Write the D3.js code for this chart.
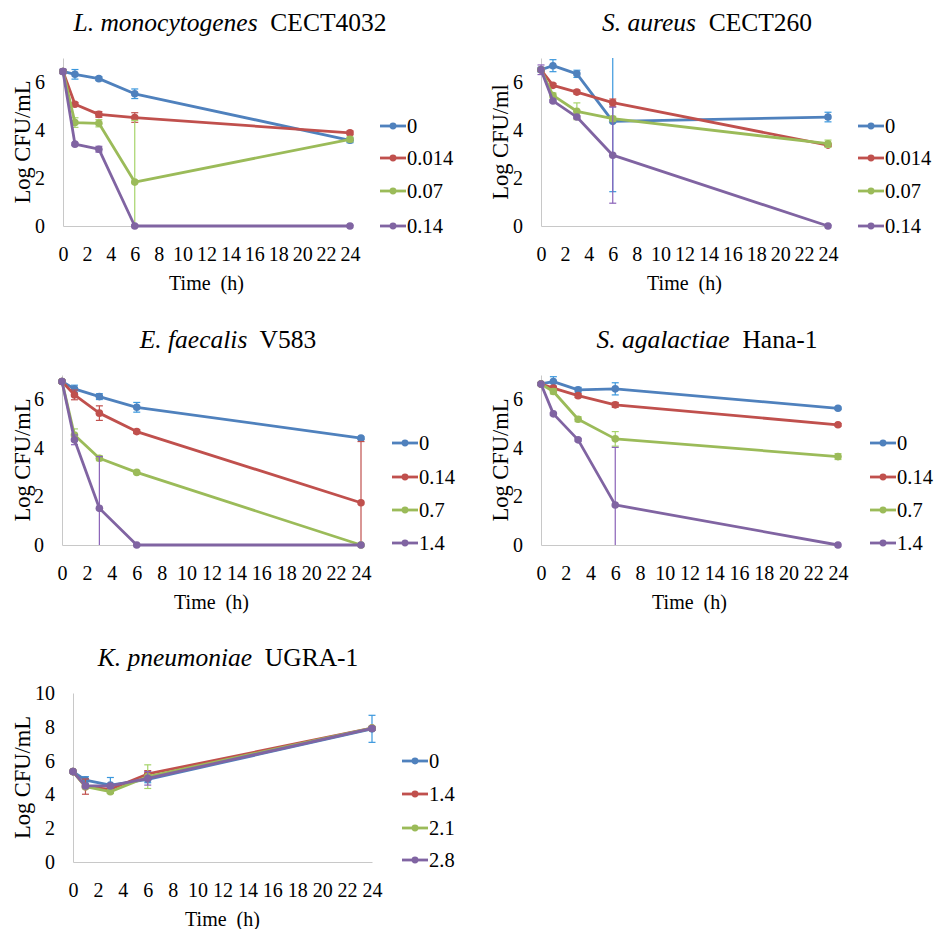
<!DOCTYPE html>
<html>
<head>
<meta charset="utf-8">
<script src="https://cdn.jsdelivr.net/npm/d3@7"></script>
<style>
  body { margin: 0; background: #fff; }
  text { font-family: "Liberation Serif", "Times New Roman", serif; fill: #000; }
</style>
</head>
<body>
<script>
// sampling times (h) and x axis ticks
const times = [0, 1, 3, 6, 24];
const xTicks = [0, 2, 4, 6, 8, 10, 12, 14, 16, 18, 20, 22, 24];
const colors = ["#4f81bd", "#c0504d", "#9bbb59", "#8064a2"];
const errColors = ["#3a97dd", "#c0504d", "#a6d46a", "#8a62b8"];
const serif = "'Liberation Serif', 'Times New Roman', serif";

// L. monocytogenes CECT4032
const lmonoDoses = ["0", "0.014", "0.07", "0.14"];
const lmonoValues = [
  [6.44, 6.32, 6.14, 5.51, 3.57],
  [6.44, 5.07, 4.65, 4.52, 3.88],
  [6.44, 4.31, 4.28, 1.83, 3.61],
  [6.44, 3.41, 3.20, 0, 0]
];
const lmonoErrors = [
  [0.08, 0.2, 0.08, 0.2, 0.1],
  [0.05, 0.08, 0.12, 0.2, 0.08],
  [0.05, 0.2, 0.15, 2.57, 0.1],
  [0.1, 0.05, 0.12, 0.05, 0.03]
];

// S. aureus CECT260
const saureusDoses = ["0", "0.014", "0.07", "0.14"];
const saureusValues = [
  [6.51, 6.68, 6.34, 4.36, 4.54],
  [6.51, 5.86, 5.58, 5.14, 3.37],
  [6.51, 5.44, 4.78, 4.47, 3.43],
  [6.51, 5.21, 4.54, 2.95, 0]
];
const saureusErrors = [
  [0.1, 0.25, 0.15, 2.93, 0.2],
  [0.05, 0.08, 0.08, 0.15, 0.05],
  [0.05, 0.1, 0.35, 0.1, 0.15],
  [0.2, 0.05, 0.05, 2.0, 0.03]
];

// E. faecalis V583
const efaecalisDoses = ["0", "0.14", "0.7", "1.4"];
const efaecalisValues = [
  [6.73, 6.43, 6.11, 5.67, 4.40],
  [6.73, 6.18, 5.43, 4.67, 1.74],
  [6.73, 4.53, 3.57, 2.99, 0],
  [6.73, 4.33, 1.51, 0, 0]
];
const efaecalisErrors = [
  [0.05, 0.15, 0.12, 0.2, 0.05],
  [0.05, 0.2, 0.3, 0.08, 2.52],
  [0.05, 0.25, 0.1, 0.05, 0],
  [0.05, 0.2, 2.13, 0, 0]
];

// S. agalactiae Hana-1
const sagalactiaeDoses = ["0", "0.14", "0.7", "1.4"];
const sagalactiaeValues = [
  [6.63, 6.73, 6.39, 6.43, 5.63],
  [6.63, 6.46, 6.15, 5.77, 4.95],
  [6.63, 6.32, 5.18, 4.37, 3.64],
  [6.63, 5.40, 4.33, 1.65, 0]
];
const sagalactiaeErrors = [
  [0.05, 0.2, 0.1, 0.25, 0.05],
  [0.05, 0.08, 0.08, 0.1, 0.05],
  [0.05, 0.1, 0.1, 0.3, 0.12],
  [0.05, 0.05, 0.05, 2.37, 0]
];

// K. pneumoniae UGRA-1
const kpneuDoses = ["0", "1.4", "2.1", "2.8"];
const kpneuValues = [
  [5.35, 4.85, 4.55, 4.89, 7.88],
  [5.35, 4.46, 4.30, 5.21, 7.92],
  [5.35, 4.46, 4.16, 5.05, 7.92],
  [5.35, 4.50, 4.50, 4.95, 7.90]
];
const kpneuErrors = [
  [0.05, 0.2, 0.45, 0.2, 0.8],
  [0.05, 0.45, 0.2, 0.2, 0.1],
  [0.05, 0.1, 0.1, 0.7, 0.1],
  [0.05, 0.1, 0.1, 0.4, 0.1]
];

const svg = d3.select("body").append("svg")
  .attr("width", 937)
  .attr("height", 929)
  .style("font-family", serif);

// panel placement (pixel boxes of each plot area)
const panels = [
  { species: "L. monocytogenes", strain: "CECT4032", doses: lmonoDoses, values: lmonoValues, errors: lmonoErrors,
    x0: 63, x1: 350, y0: 226, y1: 58, yMax: 7, yTicks: [0, 2, 4, 6], titleX: 230, titleY: 31,
    legX: 380, legY: [126, 158, 191, 226], yLab: "Log CFU/mL", yLabX: 22 },
  { species: "S. aureus", strain: "CECT260", doses: saureusDoses, values: saureusValues, errors: saureusErrors,
    x0: 541, x1: 828, y0: 226, y1: 58, yMax: 7, yTicks: [0, 2, 4, 6], titleX: 707, titleY: 31,
    legX: 858, legY: [126, 158, 191, 226], yLab: "Log CFU/ml", yLabX: 500 },
  { species: "E. faecalis", strain: "V583", doses: efaecalisDoses, values: efaecalisValues, errors: efaecalisErrors,
    x0: 62, x1: 361, y0: 545, y1: 375, yMax: 7, yTicks: [0, 2, 4, 6], titleX: 228, titleY: 348,
    legX: 392, legY: [443, 477, 510, 543], yLab: "Log CFU/mL", yLabX: 22 },
  { species: "S. agalactiae", strain: "Hana-1", doses: sagalactiaeDoses, values: sagalactiaeValues, errors: sagalactiaeErrors,
    x0: 541, x1: 838, y0: 545, y1: 375, yMax: 7, yTicks: [0, 2, 4, 6], titleX: 707, titleY: 348,
    legX: 870, legY: [443, 477, 510, 543], yLab: "Log CFU/mL", yLabX: 500 },
  { species: "K. pneumoniae", strain: "UGRA-1", doses: kpneuDoses, values: kpneuValues, errors: kpneuErrors,
    x0: 73, x1: 372, y0: 862, y1: 693, yMax: 10, yTicks: [0, 2, 4, 6, 8, 10], titleX: 228, titleY: 666,
    legX: 402, legY: [761, 794, 828, 860], yLab: "Log CFU/mL", yLabX: 22 }
];

panels.forEach(drawPanel);

function drawPanel(p) {
  const x = d3.scaleLinear().domain([0, 24]).range([p.x0, p.x1]);
  const y = d3.scaleLinear().domain([0, p.yMax]).range([p.y0, p.y1]);
  const g = svg.append("g");

  // title: italic species + upright strain
  const title = g.append("text")
    .attr("x", p.titleX)
    .attr("y", p.titleY)
    .attr("text-anchor", "middle")
    .style("font-family", serif)
    .style("font-size", "25.5px");
  title.append("tspan").style("font-style", "italic").text(p.species);
  title.append("tspan").text("\u00a0 " + p.strain);

  // axes lines (no tick marks, like Excel)
  const xAxis = g.append("g")
    .attr("transform", `translate(0,${p.y0})`)
    .call(d3.axisBottom(x).tickValues(xTicks).tickSize(0).tickPadding(21).tickFormat(d3.format("d")));
  xAxis.select(".domain").attr("stroke", "#c8c8c8");
  xAxis.selectAll("text")
    .style("font-size", "20px")
    .style("font-family", serif);

  const yAxis = g.append("g")
    .attr("transform", `translate(${p.x0},0)`)
    .call(d3.axisLeft(y).tickValues(p.yTicks).tickSize(0).tickPadding(18).tickFormat(d3.format("d")));
  yAxis.select(".domain").attr("stroke", "#c8c8c8");
  yAxis.selectAll("text")
    .style("font-size", "20px")
    .style("font-family", serif);

  // axis titles
  g.append("text")
    .attr("x", (p.x0 + p.x1) / 2)
    .attr("y", p.y0 + 64)
    .attr("text-anchor", "middle")
    .style("font-family", serif)
    .style("font-size", "20px")
    .text("Time\u00a0 (h)");

  g.append("text")
    .attr("transform", `translate(${p.yLabX},${(p.y0 + p.y1) / 2}) rotate(-90)`)
    .attr("text-anchor", "middle")
    .attr("dy", "0.35em")
    .style("font-family", serif)
    .style("font-size", "22.5px")
    .text(p.yLab);

  const line = d3.line()
    .x(d => x(d[0]))
    .y(d => y(d[1]));

  p.values.forEach((vals, i) => {
    const pts = times.map((t, k) => [t, vals[k], p.errors[i][k]]);
    const s = g.append("g");

    // error bars, clipped to the plot area
    pts.forEach(d => {
      if (!d[2]) return;
      const hi = Math.min(d[1] + d[2], p.yMax);
      const lo = Math.max(d[1] - d[2], 0);
      s.append("line")
        .attr("x1", x(d[0])).attr("x2", x(d[0]))
        .attr("y1", y(hi)).attr("y2", y(lo))
        .attr("stroke", errColors[i]).attr("stroke-width", 1.2);
      [[hi, d[1] + d[2] <= p.yMax], [lo, d[1] - d[2] >= 0]].forEach(c => {
        if (!c[1]) return;
        s.append("line")
          .attr("x1", x(d[0]) - 3.5).attr("x2", x(d[0]) + 3.5)
          .attr("y1", y(c[0])).attr("y2", y(c[0]))
          .attr("stroke", errColors[i]).attr("stroke-width", 1.2);
      });
    });

    s.append("path")
      .datum(pts)
      .attr("d", line)
      .attr("fill", "none")
      .attr("stroke", colors[i])
      .attr("stroke-width", 2.8)
      .attr("stroke-linejoin", "round");

    s.selectAll("circle")
      .data(pts)
      .enter().append("circle")
        .attr("cx", d => x(d[0]))
        .attr("cy", d => y(d[1]))
        .attr("r", 3.8)
        .attr("fill", colors[i]);
  });

  // legend
  const leg = g.selectAll(".leg")
    .data(p.doses)
    .enter().append("g")
      .attr("transform", (d, i) => `translate(${p.legX},${p.legY[i]})`);
  leg.append("line")
    .attr("x1", 0).attr("x2", 26)
    .attr("stroke", (d, i) => colors[i])
    .attr("stroke-width", 2.8);
  leg.append("circle")
    .attr("cx", 13)
    .attr("r", 3.4)
    .attr("fill", (d, i) => colors[i]);
  leg.append("text")
    .attr("x", 27)
    .attr("dy", "0.35em")
    .style("font-family", serif)
    .style("font-size", "20.5px")
    .text(d => d);
}
</script>
</body>
</html>
